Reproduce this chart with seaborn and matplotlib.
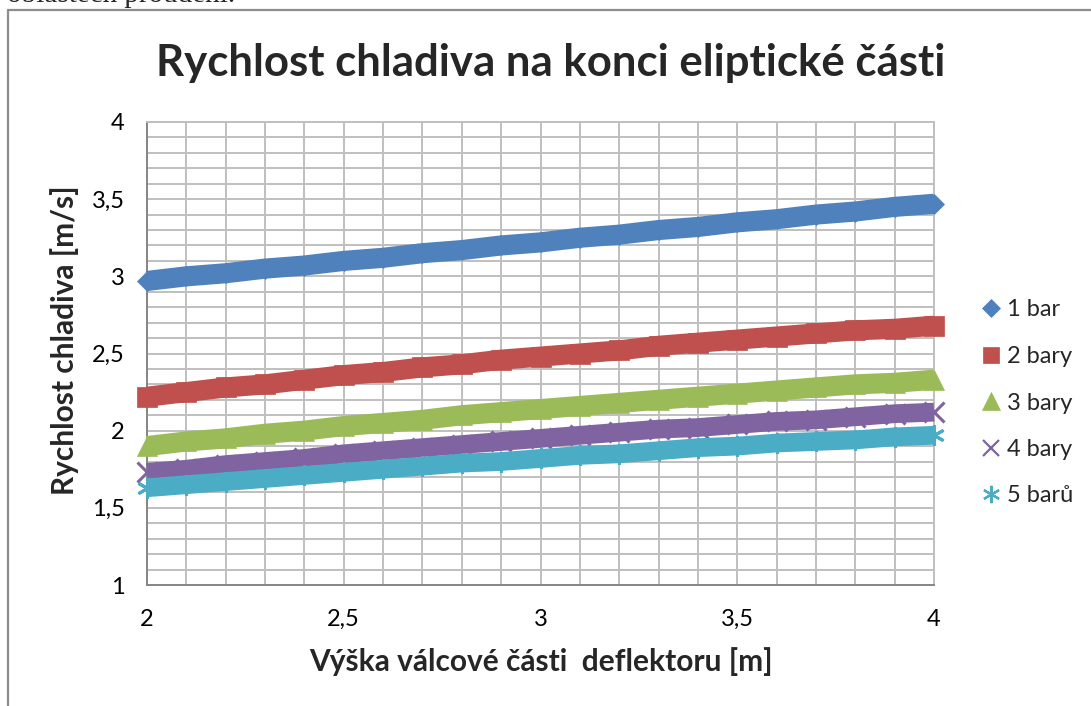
import numpy as np
import pandas as pd
import matplotlib
matplotlib.use("Agg")
import matplotlib.pyplot as plt
from matplotlib.lines import Line2D
from matplotlib.ticker import FuncFormatter, MultipleLocator
import seaborn as sns

# ---- data ----
vyska = [2.0, 2.1, 2.2, 2.3, 2.4, 2.5, 2.6, 2.7, 2.8, 2.9, 3.0,
         3.1, 3.2, 3.3, 3.4, 3.5, 3.6, 3.7, 3.8, 3.9, 4.0]
bar1 = [2.97, 3.00, 3.02, 3.05, 3.07, 3.10, 3.12, 3.15, 3.17, 3.20, 3.22,
        3.25, 3.27, 3.30, 3.32, 3.35, 3.37, 3.40, 3.42, 3.45, 3.47]
bar2 = [2.22, 2.25, 2.28, 2.30, 2.33, 2.36, 2.38, 2.41, 2.43, 2.46, 2.48,
        2.50, 2.52, 2.55, 2.57, 2.59, 2.61, 2.63, 2.65, 2.66, 2.68]
bar3 = [1.90, 1.93, 1.95, 1.98, 2.00, 2.03, 2.05, 2.07, 2.10, 2.12, 2.14,
        2.16, 2.18, 2.20, 2.22, 2.24, 2.26, 2.28, 2.30, 2.31, 2.33]
bar4 = [1.73, 1.75, 1.78, 1.80, 1.82, 1.85, 1.87, 1.89, 1.91, 1.93, 1.95,
        1.97, 1.99, 2.01, 2.02, 2.04, 2.06, 2.07, 2.09, 2.11, 2.12]
bar5 = [1.63, 1.65, 1.67, 1.69, 1.71, 1.73, 1.75, 1.77, 1.79, 1.80, 1.82,
        1.84, 1.85, 1.87, 1.89, 1.90, 1.92, 1.93, 1.94, 1.96, 1.97]
labels = ["1 bar", "2 bary", "3 bary", "4 bary", "5 barů"]
series = [bar1, bar2, bar3, bar4, bar5]

title = "Rychlost chladiva na konci eliptické části"
xlabel = "Výška válcové části  deflektoru [m]"
ylabel = "Rychlost chladiva [m/s]"

colors = ["#4F81BD", "#C0504D", "#9BBB59", "#8064A2", "#4BACC6"]
markers = ["D", "s", "^", "x", (6, 2, 0)]
msize = [10.5, 14, 14.5, 14, 15]
lwidth = [14.5, 14.5, 14.5, 13.5, 13.5]
leg_ms = [9.2, 11.5, 12.5, 11.5, 12.5]

sns.set_theme(style="white")
plt.rcParams["font.family"] = ["Lato", "DejaVu Sans"]

W, H = 1091, 706
fig = plt.figure(figsize=(W / 100, H / 100), dpi=100)
ax = fig.add_axes([147 / W, (H - 585) / H, (934 - 147) / W, (585 - 122) / H])

for vals, lab, c, m, ms, lw in zip(series, labels, colors, markers, msize, lwidth):
    df = pd.DataFrame({"x": vyska, "v": vals})
    sns.lineplot(data=df, x="x", y="v", ax=ax, color=c, linewidth=lw,
                 marker=m, markersize=ms, markeredgecolor=c,
                 markeredgewidth=2.2 if m in ("x", (6, 2, 0)) else 0.5,
                 solid_capstyle="butt", legend=False, clip_on=False, zorder=3)

ax.set_xlim(2, 4)
ax.set_ylim(1, 4)
ax.xaxis.set_major_locator(MultipleLocator(0.5))
ax.xaxis.set_minor_locator(MultipleLocator(0.1))
ax.yaxis.set_major_locator(MultipleLocator(0.5))
ax.yaxis.set_minor_locator(MultipleLocator(0.1))
fmt = FuncFormatter(lambda v, p: f"{v:g}".replace(".", ","))
ax.xaxis.set_major_formatter(fmt)
ax.yaxis.set_major_formatter(fmt)
ax.grid(which="both", color="#BFBFBF", linewidth=1.4)
ax.set_axisbelow(True)
for s in ["top", "right"]:
    ax.spines[s].set_color("#BFBFBF")
    ax.spines[s].set_linewidth(1.4)
for s in ["left", "bottom"]:
    ax.spines[s].set_color("#868686")
    ax.spines[s].set_linewidth(1.4)
ax.tick_params(which="both", length=0)
ax.tick_params(axis="x", pad=17, labelsize=17, colors="black")
ax.tick_params(axis="y", pad=16, labelsize=17, colors="black")

ax.set_xlabel("")
ax.set_ylabel("")
fig.text(541 / W, 1 - 662 / H, xlabel, ha="center", va="center",
         fontsize=21.5, fontweight="bold")
fig.text(65 / W, 1 - 340 / H, ylabel, ha="center", va="center",
         rotation=90, fontsize=21.5, fontweight="bold")
fig.text(551 / W, 1 - 63 / H, title, ha="center", va="center",
         fontsize=31.5, fontweight="bold")

handles = [Line2D([], [], linestyle="none", marker=m, markersize=ms,
                  color=c, markeredgecolor=c,
                  markeredgewidth=1.6 if m in ("x", (6, 2, 0)) else 0.5)
           for m, ms, c in zip(markers, leg_ms, colors)]
fig.legend(handles, labels, loc="center left",
           bbox_to_anchor=(972 / W, 1 - 403 / H), frameon=False,
           fontsize=17, handlelength=0.8, handletextpad=0.3,
           labelspacing=1.08, borderaxespad=0)

# page frame and cut-off document text
fig.add_artist(Line2D([8 / W, 1], [1 - 10 / H, 1 - 10 / H], color="#8c8c8c", lw=1.6))
fig.add_artist(Line2D([8 / W, 8 / W], [0, 1 - 10 / H], color="#8c8c8c", lw=1.6))
fig.text(7 / W, 1 - 2 / H, "oblastech proudění.", ha="left", va="baseline",
         fontsize=21, family=["Liberation Serif", "DejaVu Serif"])

fig.savefig("out.png", dpi=100, facecolor="white")
